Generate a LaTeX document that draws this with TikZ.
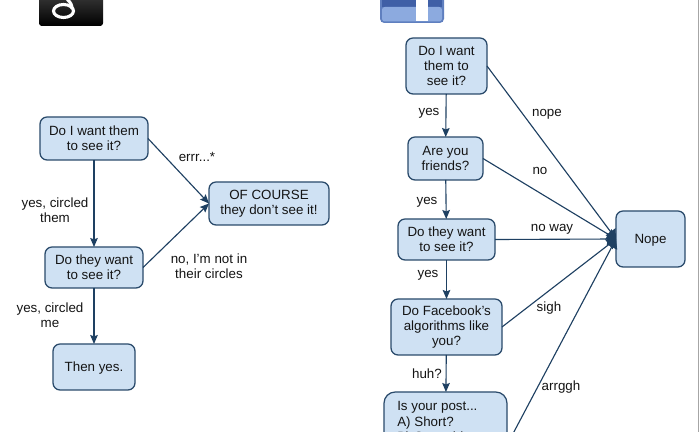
\documentclass[tikz,border=0pt]{standalone}
\usepackage{fontspec}
\setmainfont{Liberation Sans}
\usetikzlibrary{arrows.meta}
\definecolor{boxline}{HTML}{2A4A6B}
\definecolor{boxfill}{HTML}{CFE1F3}
\definecolor{arrowline}{HTML}{1E4062}
\definecolor{labeltext}{HTML}{141414}
\definecolor{fbdark}{HTML}{3F5FA6}
\definecolor{fblight}{HTML}{8CAADF}
\definecolor{fbedge}{HTML}{5F7FBF}
\tikzset{
  flowbox/.style 2 args={draw=boxline, fill=boxfill, line width=0.9pt, rounded corners=5pt,
    text=labeltext, align=center, inner sep=0pt, outer sep=0pt,
    minimum width=#1*0.025cm, minimum height=#2*0.025cm},
  link/.style={draw=arrowline, line width=0.8pt, -{Stealth[length=6.4pt,width=5.4pt,inset=1pt]}},
  nopelink/.style={draw=arrowline, line width=0.8pt, -{Stealth[length=6.4pt,width=8.5pt,inset=0pt]}},
  edgelabel/.style={text=labeltext, align=center, inner sep=0pt}
}

\begin{document}
\begin{tikzpicture}[x=0.025cm, y=-0.025cm, font=\fontsize{9.5}{10.7}\selectfont]
            \useasboundingbox (0,0) rectangle (700,432);
            \clip (0,0) rectangle (700,432);
            \fill[white] (0,0) rectangle (700,432);
            \draw[gray!70, line width=0.6pt] (698,0) -- (698,432);

            % logos
            \shade[top color=black!75, bottom color=black, rounded corners=2pt] (39,-10) rectangle (103,26);
            \draw[white, line width=2.2pt] (63.5,11) ellipse [x radius=10, y radius=6.5];
            \draw[white, line width=2.2pt] (72,9) .. controls (72,5) and (71,3) .. (67,-1);
            \fill[fbedge, rounded corners=3pt] (380,-10) rectangle (444,23);
            \fill[fbdark] (382,-2) rectangle (442,7);
            \fill[fblight, rounded corners=2pt] (382,7) rectangle (442,21.5);
            \fill[white] (416,-2) rectangle (428,21.5);

            % left chart
            \node [flowbox={108}{43}] (wantL) at (94,138.5) {Do I want them\\to see it?};
            \node [flowbox={120}{43}] (course) at (269,203.5) {OF COURSE\\they don't see it!};
            \node [flowbox={98}{41}] (theyL) at (94,267.5) {Do they want\\to see it?};
            \node [flowbox={82}{46}, text depth=0pt] (thenyes) at (94,367) {Then yes.};
            \draw[link] (wantL) -- (theyL);
            \draw[link] (theyL) -- (thenyes);
            \draw[link] (wantL.east) -- (course.west);
            \draw[link] (theyL.east) -- (course.west);
            \node [edgelabel] (errr) at (197,157) {errr...*};
            \node [edgelabel] (circled) at (55,210.5) {yes, circled\\them};
            \node [edgelabel] (notin) at (209,266) {no, I'm not in\\their circles};
            \node [edgelabel] (circledme) at (50,315) {yes, circled\\me};

            % right chart
            \node [flowbox={81}{56}] (wantR) at (446.5,66) {Do I want\\them to\\see it?};
            \node [flowbox={75}{43}] (friends) at (445.5,158.5) {Are you\\friends?};
            \node [flowbox={97}{41}] (theyR) at (446.5,239.5) {Do they want\\to see it?};
            \node [flowbox={111}{56}] (algo) at (446.5,327) {Do Facebook's\\algorithms like\\you?};
            \node [flowbox={123}{106}, rounded corners=8pt] (post) at (445.5,445) {};
            \node [edgelabel, align=left, anchor=north west] (posttext) at (397,401.5) {Is your post...\\A) Short?\\B) Something};
            \node [flowbox={69}{56}, text depth=0pt] (nope) at (650.5,239) {Nope};
            \draw[link] (wantR) -- (friends);
            \draw[link] (friends) -- (theyR);
            \draw[link] (theyR) -- (algo);
            \draw[link] (algo) -- (post);
            \draw[nopelink] (wantR.east) -- (nope.west);
            \draw[nopelink] (friends.east) -- (nope.west);
            \draw[nopelink] (theyR.east) -- (nope.west);
            \draw[nopelink] (algo.east) -- (nope.west);
            \draw[nopelink] (post.east) -- (nope.west);
            \node [edgelabel] (nopeL) at (547,114) {nope};
            \node [edgelabel] (yesA) at (429,113) {yes};
            \node [edgelabel] (noL) at (540,171) {no};
            \node [edgelabel] (yesB) at (427,202) {yes};
            \node [edgelabel] (noway) at (552,229) {no way};
            \node [edgelabel] (yesC) at (428,275) {yes};
            \node [edgelabel] (sigh) at (549,308) {sigh};
            \node [edgelabel] (huh) at (427,374) {huh?};
            \node [edgelabel] (arrggh) at (561,387) {arrggh};
        \end{tikzpicture}
\end{document}
